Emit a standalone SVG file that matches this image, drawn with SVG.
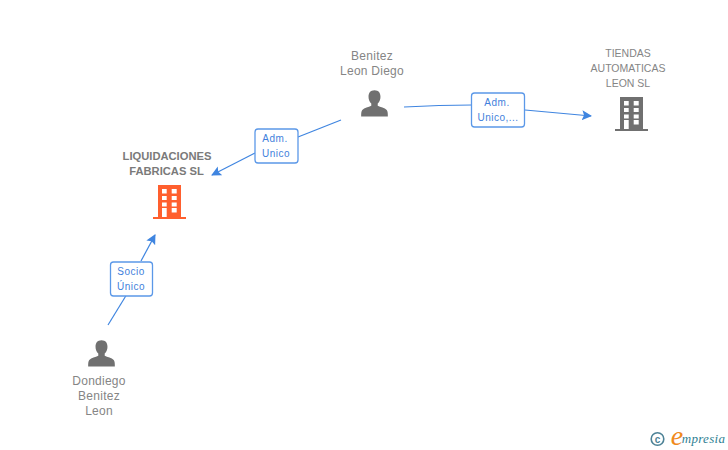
<svg xmlns="http://www.w3.org/2000/svg" width="728" height="450" viewBox="0 0 728 450">
<style>
text{font-family:"Liberation Sans",Arial,sans-serif;text-anchor:middle}
.n{font-size:12px;fill:#858585;letter-spacing:.25px}
.t{font-size:10.5px;fill:#858585}
.b{font-size:11.200px;fill:#7a7a7a;font-weight:bold}
.l{font-size:10px;fill:#3f7fdc;letter-spacing:.5px}
.c{fill:none;stroke:#3f85e0;stroke-width:1.2;marker-end:url(#a)}
.c2{fill:none;stroke:#3f85e0;stroke-width:1.2}
.box{fill:#fff;stroke:#5b98e8;stroke-width:1.3}
</style>
<defs>
<marker id="a" markerUnits="userSpaceOnUse" markerWidth="12" markerHeight="12" refX="9" refY="5" orient="auto"><path d="M0 0L10 5L0 10L2 5Z" fill="#3f85e0"/></marker>
<path id="person" d="M0-15c-4.500 0-6.500 3-6.500 7 0 3 1 5.500 3 7.500v2.500c-3 1.500-7.500 2-9.800 4.500-1.200 1.500-1.200 4-1.200 7h29c0-3 0-5.500-1.200-7-2.300-2.500-6.800-3-9.800-4.500v-2.500c2-2 3-4.500 3-7.500 0-4-2-7-6.500-7z" fill="#707070" transform="scale(.92)"/>
<path id="bld" fill-rule="evenodd" d="M-12 1h5v-32h23v32h5v2h-33zM-3-27v4.500h4.700v-4.500zM6.700-27v4.500h5v-4.500zM-3-20v4h4.700v-4zM6.700-20v4h5v-4zM-3-13.500v4h4.700v-4zM6.700-13.500v4h5v-4zM-3-8v9h4.700v-9zM6.700-8v4.500h5v-4.500z"/>
</defs>
<g id="connectors">
<path class="c2" d="M108 325L127 294"/>
<path class="c" d="M141 261L155 235"/>
<path class="c2" d="M341 120L298 137"/>
<path class="c" d="M255 153L212 175"/>
<path class="c2" d="M404 107Q440 105 472 105"/>
<path class="c" d="M525 110L591 116"/>
</g>
<g id="edge-socio"><rect class="box" x="110.500" y="262" width="42" height="34" rx="3"/><text class="l" x="131" y="275">Socio</text><text class="l" x="131" y="290">Único</text></g>
<g id="edge-adm1"><rect class="box" x="255" y="129" width="43" height="34" rx="3"/><text class="l" x="275" y="142">Adm.</text><text class="l" x="276" y="157">Unico</text></g>
<g id="edge-adm2"><rect class="box" x="471.500" y="93" width="53" height="34" rx="3"/><text class="l" x="497" y="106">Adm.</text><text class="l" x="498" y="121">Unico,...</text></g>
<g id="node-liquidaciones"><text class="b" x="167" y="159.500">LIQUIDACIONES</text><text class="b" x="166.500" y="174.500">FABRICAS SL</text><use href="#bld" x="165" y="216" fill="#ff5f2e"/></g>
<g id="node-benitez"><text class="n" x="372" y="60">Benitez</text><text class="n" x="372" y="75">Leon Diego</text><use href="#person" x="374.500" y="104"/></g>
<g id="node-tiendas"><text class="t" x="628" y="57">TIENDAS</text><text class="t" x="628" y="72">AUTOMATICAS</text><text class="t" x="628" y="87">LEON SL</text><use href="#bld" x="627" y="128" fill="#707070"/></g>
<g id="node-dondiego"><use href="#person" x="101.500" y="354"/><text class="n" x="99" y="385">Dondiego</text><text class="n" x="99" y="400">Benitez</text><text class="n" x="99" y="415">Leon</text></g>
<g id="logo"><circle cx="657.500" cy="439" r="6.300" fill="none" stroke="#4d8296" stroke-width="1.600"/><text x="657.500" y="442.500" style="font-size:10px;font-weight:bold;fill:#4d8296">c</text><text x="677" y="445" style="font-family:'Liberation Serif',serif;font-style:italic;font-size:28px;fill:#f08a1d">e</text><text x="703.500" y="443" style="font-family:'Liberation Serif',serif;font-style:italic;font-size:13px;fill:#2f7f93;letter-spacing:.3px">mpresia</text></g>
</svg>
